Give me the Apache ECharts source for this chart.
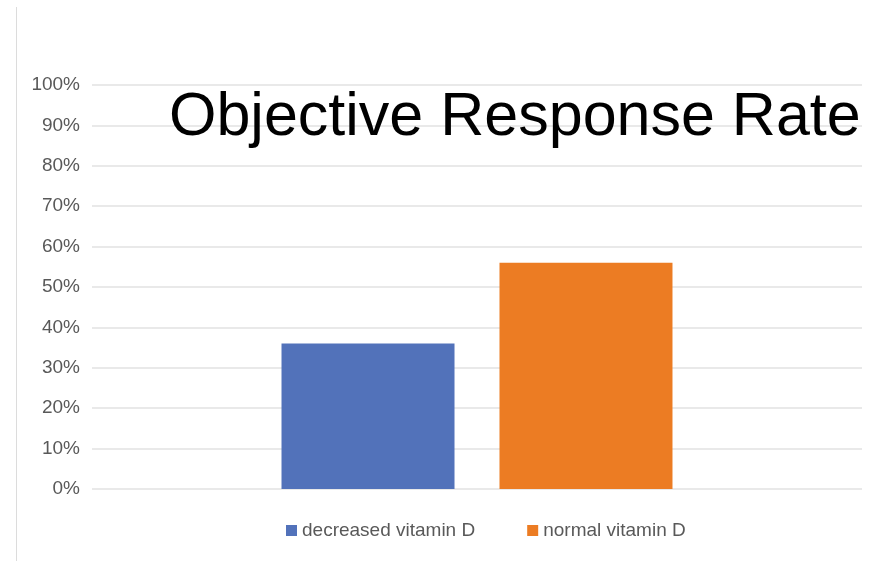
<!DOCTYPE html>
<html>
<head>
<meta charset="utf-8">
<script src="https://cdn.jsdelivr.net/npm/echarts@6/dist/echarts.min.js"></script>
<style>
  html, body { margin: 0; padding: 0; background: #ffffff; }
  #chart { width: 884px; height: 561px; }
</style>
</head>
<body>
<div id="chart"></div>
<script>
// Objective response rate by vitamin D status (percent)
const categories = [''];
const seriesNames = ['decreased vitamin D', 'normal vitamin D'];
const decreasedVitD = [36];
const normalVitD = [56];
const seriesColors = ['#5272BA', '#EC7C23'];

const chart = echarts.init(document.getElementById('chart'));

chart.setOption({
  backgroundColor: '#ffffff',
  animation: false,
  title: {
    text: 'Objective Response Rate',
    left: 164,
    top: 83,
    textStyle: {
      fontFamily: 'Liberation Sans, Arial, sans-serif',
      fontSize: 61,
      fontWeight: 'normal',
      color: '#000000'
    }
  },
  graphic: [{
    type: 'line',
    shape: { x1: 16.5, y1: 7, x2: 16.5, y2: 561 },
    style: { stroke: '#dcdcdc', lineWidth: 1 },
    z: -1
  }],
  legend: {
    data: seriesNames,
    left: 281,
    top: 516,
    itemWidth: 11,
    itemHeight: 11,
    itemGap: 52,
    icon: 'rect',
    textStyle: {
      fontFamily: 'Liberation Sans, Arial, sans-serif',
      fontSize: 19,
      color: '#595959'
    }
  },
  grid: { left: 92, right: 22, top: 85, bottom: 72, containLabel: false },
  xAxis: {
    type: 'category',
    data: categories,
    axisLine: { show: false },
    axisTick: { show: false },
    axisLabel: { show: false }
  },
  yAxis: {
    type: 'value',
    min: 0,
    max: 100,
    interval: 10,
    axisLine: { show: false },
    axisTick: { show: false },
    axisLabel: {
      formatter: '{value}%',
      margin: 12,
      fontFamily: 'Liberation Sans, Arial, sans-serif',
      fontSize: 19,
      color: '#595959'
    },
    splitLine: { lineStyle: { color: '#e2e2e2', width: 1.5 } }
  },
  series: [
    {
      name: seriesNames[0],
      type: 'bar',
      data: decreasedVitD,
      barWidth: 173,
      barGap: '26%',
      itemStyle: { color: seriesColors[0] }
    },
    {
      name: seriesNames[1],
      type: 'bar',
      data: normalVitD,
      barWidth: 173,
      barGap: '26%',
      itemStyle: { color: seriesColors[1] }
    }
  ]
});
</script>
</body>
</html>
